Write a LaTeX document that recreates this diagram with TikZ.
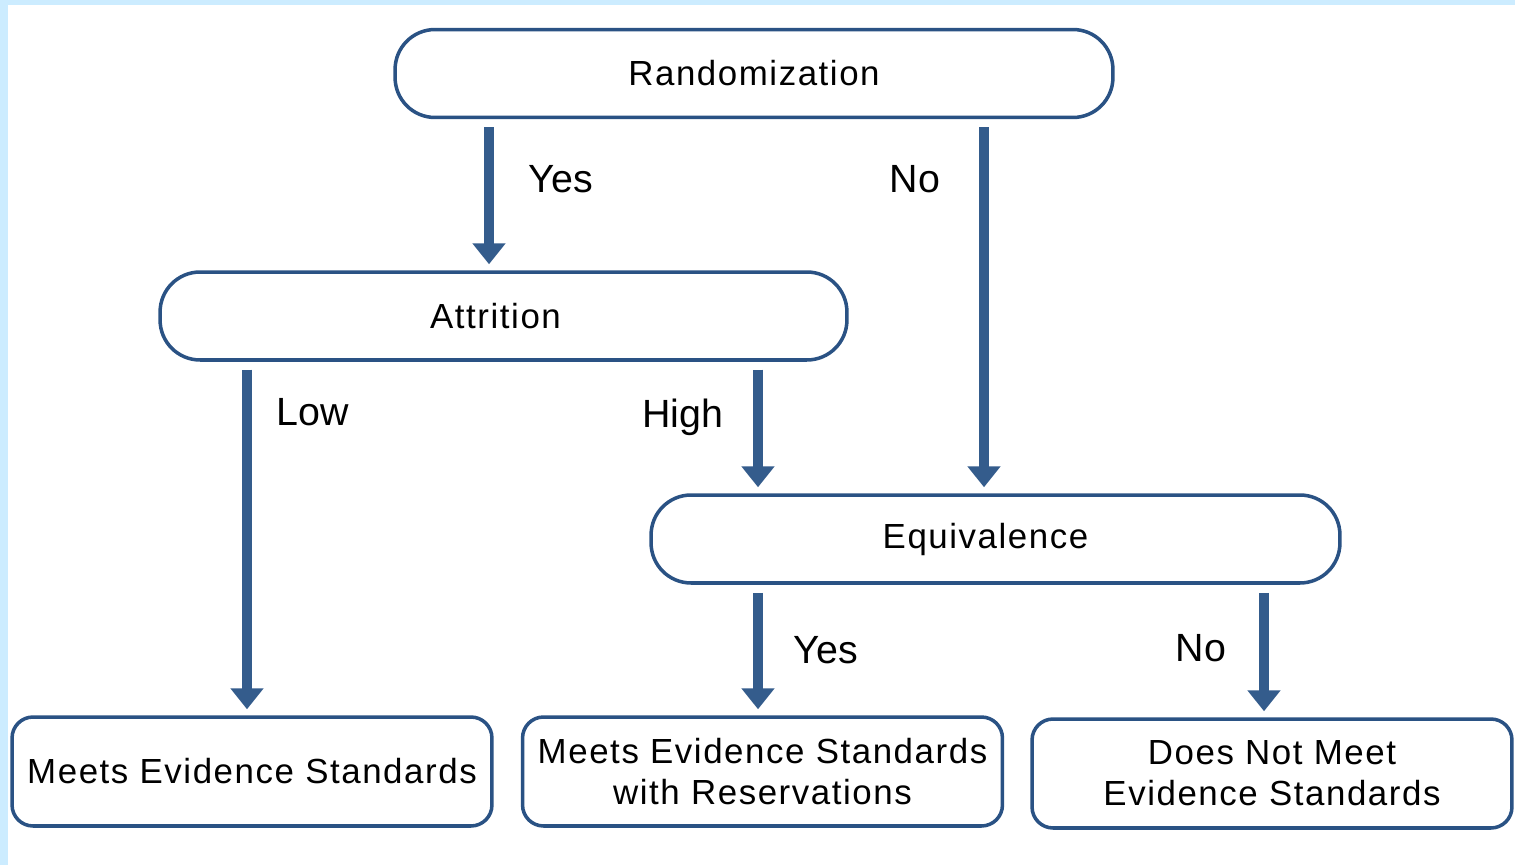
\documentclass[tikz,border=0pt]{standalone}
\usepackage{fontspec}
\setmainfont{Liberation Sans}
\newfontfamily\boxfont[LetterSpace=4.5]{Liberation Sans}
\usetikzlibrary{arrows.meta}
\definecolor{bordblue}{RGB}{42,82,132}
\definecolor{arrblue}{RGB}{52,92,140}
\definecolor{bgblue}{RGB}{204,236,255}
\begin{document}
\begin{tikzpicture}[x=0.02cm,y=-0.02cm,
  pill/.style={draw=bordblue, line width=2pt, rounded corners=0.8cm, fill=white,
    minimum height=1.76cm, inner sep=0pt,
    font=\boxfont\fontsize{19.84pt}{23.2pt}\selectfont},
  endbox/.style={draw=bordblue, line width=2pt, rounded corners=0.42cm, fill=white,
    minimum width=9.6cm, minimum height=2.18cm, inner sep=0pt, align=center,
    font=\boxfont\fontsize{19.84pt}{23.2pt}\selectfont},
  lab/.style={anchor=base, inner sep=0pt, font=\fontsize{22.4pt}{26pt}\selectfont},
  arr/.style={draw=arrblue, line width=5.4pt,
    -{Triangle[width=0.64cm,length=0.42cm]},
    shorten <=0.16cm, shorten >=0.12cm}]
\useasboundingbox (0,0) rectangle (1515,865);
\fill[white] (0,0) rectangle (1515,865);
\fill[bgblue] (0,0) rectangle (1515,5);
\fill[bgblue] (0,0) rectangle (8,865);

% boxes
\node[pill, minimum width=14.36cm] (rand) at (754,73.5) {Randomization};
\node[pill, minimum width=13.74cm] (attr) at (503.5,316) {Attrition\hspace*{0.32cm}};
\node[pill, minimum width=13.78cm] (equiv) at (995.5,539) {Equivalence\hspace*{0.4cm}};
\node[endbox] (mes) at (252,771.5) {Meets Evidence Standards};
\node[endbox] (mesr) at (762.5,771.5) {Meets Evidence Standards\\with Reservations};
\node[endbox] (dnm) at (1272,773.5) {Does Not Meet\\Evidence Standards};

% arrow x positions
\coordinate (xa) at (489,0);
\coordinate (xb) at (984,0);
\coordinate (xc) at (247,0);
\coordinate (xd) at (758,0);
\coordinate (xe) at (1264,0);

\draw[arr] (rand.south -| xa) -- (attr.north -| xa);
\draw[arr] (rand.south -| xb) -- (equiv.north -| xb);
\draw[arr] (attr.south -| xc) -- (mes.north -| xc);
\draw[arr] (attr.south -| xd) -- (equiv.north -| xd);
\draw[arr] (equiv.south -| xd) -- (mesr.north -| xd);
\draw[arr] (equiv.south -| xe) -- (dnm.north -| xe);

% labels
\node[lab] (lyes1) at (561,193) {Yes};
\node[lab] (lno1) at (915,193) {No};
\node[lab] (llow) at (313,425) {Low};
\node[lab] (lhigh) at (683,427) {High};
\node[lab] (lyes2) at (826,663) {Yes};
\node[lab] (lno2) at (1201,661) {No};
\end{tikzpicture}
\end{document}
